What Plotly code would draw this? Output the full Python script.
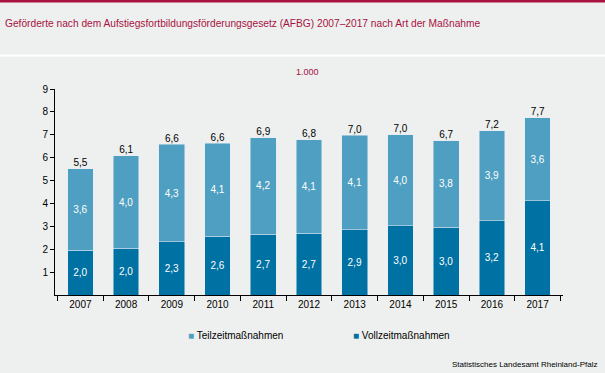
import plotly.graph_objects as go

years = ["2007", "2008", "2009", "2010", "2011", "2012", "2013", "2014", "2015", "2016", "2017"]
vollzeit = [1.96, 2.04, 2.32, 2.56, 2.66, 2.70, 2.86, 3.02, 2.97, 3.24, 4.11]
teilzeit = [3.56, 4.04, 4.27, 4.08, 4.22, 4.09, 4.13, 3.98, 3.77, 3.93, 3.63]
totals = [v + t for v, t in zip(vollzeit, teilzeit)]
series_names = ["Teilzeitmaßnahmen", "Vollzeitmaßnahmen"]

def de(x):
    return f"{x:.1f}".replace(".", ",")

FONT = "Liberation Sans, Arial, sans-serif"
C_TEIL = "#4e9fc1"
C_VOLL = "#0071a3"
BG = "#eef0ef"
RED = "#a8123f"
PH = 206  # plot height px
PW = 508  # plot width px

fig = go.Figure()
fig.add_trace(go.Bar(
    x=years, y=vollzeit, name=series_names[1], marker_color=C_VOLL,
    text=[de(v) for v in vollzeit], textposition="inside", insidetextanchor="middle",
    textfont=dict(color="white", size=10, family=FONT), textangle=0, showlegend=False,
))
fig.add_trace(go.Bar(
    x=years, y=teilzeit, name=series_names[0], marker_color=C_TEIL,
    text=[de(v) for v in teilzeit], textposition="inside", insidetextanchor="middle",
    textfont=dict(color="white", size=10, family=FONT), textangle=0, showlegend=False,
))
fig.add_trace(go.Scatter(
    x=years, y=totals, mode="text", text=[de(v) for v in totals],
    textposition="top center", textfont=dict(color="black", size=10, family=FONT),
    showlegend=False, hoverinfo="skip",
))

legend_ann = []
for name, col, px in [(series_names[0], C_TEIL, 186), (series_names[1], C_VOLL, 351)]:
    legend_ann.append(dict(
        text=f"<span style='color:{col}'>■</span> {name}", xref="paper", yref="paper",
        x=(px - 55) / PW, xanchor="left", y=-40 / PH, yanchor="middle", showarrow=False,
        font=dict(size=10, family=FONT, color="black"),
    ))

fig.update_layout(
    width=605, height=373,
    barmode="stack", bargap=0.437,
    paper_bgcolor=BG, plot_bgcolor=BG,
    margin=dict(l=55, r=42, t=89, b=78),
    font=dict(family=FONT, size=10, color="black"),
    showlegend=False,
    xaxis=dict(
        type="category", showline=True, linecolor="black", linewidth=1,
        ticks="outside", tickson="boundaries", ticklen=5, tickcolor="black",
        showgrid=False, tickfont=dict(size=10, family=FONT, color="black"),
    ),
    yaxis=dict(
        range=[0, 9], showline=True, linecolor="black", linewidth=1,
        ticks="outside", ticklen=4, tickcolor="black", showgrid=False,
        zeroline=False, tickfont=dict(size=10, family=FONT, color="black"),
        tickvals=[1, 2, 3, 4, 5, 6, 7, 8, 9],
    ),
    shapes=[
        dict(type="rect", xref="paper", yref="paper", x0=-0.2, x1=1.2,
             y0=1 + 86.5 / PH, y1=1 + 95 / PH, fillcolor=RED, line_width=0, layer="below"),
        dict(type="rect", xref="paper", yref="paper", x0=-0.2, x1=1.2,
             y0=1 + 32.5 / PH, y1=1 + 34.5 / PH, fillcolor="white", line_width=0, layer="below"),
    ],
    annotations=[
        dict(text="Geförderte nach dem Aufstiegsfortbildungsförderungsgesetz (AFBG) 2007–2017 nach Art der Maßnahme",
             xref="paper", yref="paper", x=-52 / PW, xanchor="left",
             y=1 + 65 / PH, yanchor="middle", showarrow=False,
             font=dict(size=10.2, family=FONT, color=RED)),
        dict(text="1.000", xref="paper", yref="paper", x=(307 - 55) / PW, xanchor="center",
             y=1 + 17 / PH, yanchor="middle", showarrow=False,
             font=dict(size=9, family=FONT, color=RED)),
        dict(text="Statistisches Landesamt Rheinland-Pfalz", xref="paper", yref="paper",
             x=(599 - 55) / PW, xanchor="right", y=-69 / PH, yanchor="middle",
             showarrow=False, font=dict(size=8, family=FONT, color="black")),
    ] + legend_ann,
)

post = (
    "document.documentElement.style.margin='0';document.documentElement.style.overflow='hidden';"
    "document.body.style.margin='0';document.body.style.padding='0';document.body.style.overflow='hidden';"
    "var gd=document.getElementById('{plot_id}');Plotly.relayout(gd,{width:605,height:373});"
)
fig.write_html("out.html", config={"responsive": False, "displayModeBar": False}, post_script=post)
